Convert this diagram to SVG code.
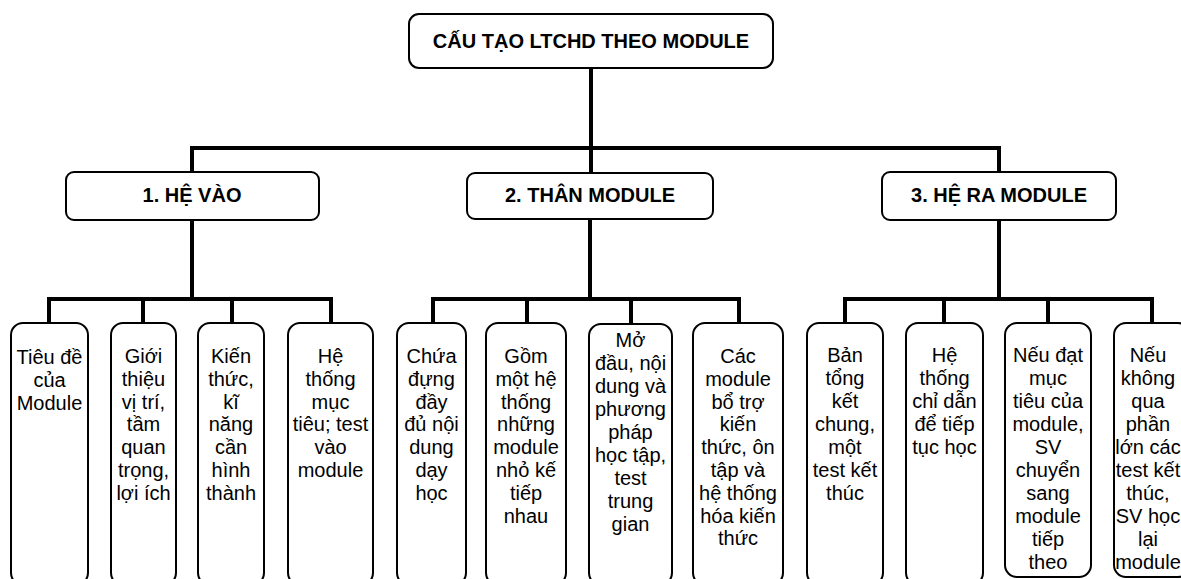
<svg xmlns="http://www.w3.org/2000/svg" width="1181" height="579" viewBox="0 0 1181 579">
<style>
.box{fill:#fff;stroke:#000;stroke-width:2}
.conn{fill:none;stroke:#000;stroke-width:4;stroke-linecap:square}
.h{font-family:"Liberation Sans",Arial,sans-serif;font-weight:bold;font-size:20px;text-anchor:middle;fill:#000}
.t{font-family:"Liberation Sans",Arial,sans-serif;font-size:20px;text-anchor:middle;fill:#000}
</style>
<rect width="1181" height="579" fill="#fff"/>
<g id="connectors" class="conn">
<path d="M591 68V148M192 148H999M192 148V172M591 148V173M999 148V172"/>
<path d="M192 220V299M49 299H331M49 299V323M143 299V323M232 299V323M331 299V323"/>
<path d="M590 219V299M433 299H739M433 299V323M527 299V323M631 299V323M739 299V323"/>
<path d="M999 220V299M845 299H1152M845 299V323M944 299V323M1048 299V323M1152 299V323"/>
</g>
<g id="root"><rect class="box" x="409" y="14" width="364" height="54" rx="10"/><text class="h" x="591" y="48">CẤU TẠO LTCHD THEO MODULE</text></g>
<g id="n1"><rect class="box" x="66" y="172" width="253" height="48" rx="8"/><text class="h" x="192" y="202">1. HỆ VÀO</text></g>
<g id="n2"><rect class="box" x="467" y="173" width="246" height="46" rx="8"/><text class="h" x="590" y="202">2. THÂN MODULE</text></g>
<g id="n3"><rect class="box" x="882" y="172" width="234" height="48" rx="8"/><text class="h" x="999" y="202">3. HỆ RA MODULE</text></g>

<g id="c1"><rect class="box" x="11" y="323" width="77" height="262" rx="12"/><text class="t" x="49.5" y="364"><tspan x="49.5">Tiêu đề</tspan><tspan x="49.5" dy="23">của</tspan><tspan x="49.5" dy="23">Module</tspan></text></g>
<g id="c2"><rect class="box" x="111" y="323" width="65" height="262" rx="12"/><text class="t" x="143.5" y="363"><tspan x="143.5">Giới</tspan><tspan x="143.5" dy="22.8">thiệu</tspan><tspan x="143.5" dy="22.8">vị trí,</tspan><tspan x="143.5" dy="22.8">tầm</tspan><tspan x="143.5" dy="22.8">quan</tspan><tspan x="143.5" dy="22.8">trọng,</tspan><tspan x="143.5" dy="22.8">lợi ích</tspan></text></g>
<g id="c3"><rect class="box" x="198" y="323" width="66" height="262" rx="12"/><text class="t" x="231" y="363"><tspan x="231">Kiến</tspan><tspan x="231" dy="22.8">thức,</tspan><tspan x="231" dy="22.8">kĩ</tspan><tspan x="231" dy="22.8">năng</tspan><tspan x="231" dy="22.8">cần</tspan><tspan x="231" dy="22.8">hình</tspan><tspan x="231" dy="22.8">thành</tspan></text></g>
<g id="c4"><rect class="box" x="288" y="323" width="85" height="262" rx="12"/><text class="t" x="330.5" y="363"><tspan x="330.5">Hệ</tspan><tspan x="330.5" dy="22.8">thống</tspan><tspan x="330.5" dy="22.8">mục</tspan><tspan x="330.5" dy="22.8">tiêu; test</tspan><tspan x="330.5" dy="22.8">vào</tspan><tspan x="330.5" dy="22.8">module</tspan></text></g>

<g id="c5"><rect class="box" x="397" y="323" width="69" height="262" rx="12"/><text class="t" x="431.5" y="363"><tspan x="431.5">Chứa</tspan><tspan x="431.5" dy="22.8">đựng</tspan><tspan x="431.5" dy="22.8">đầy</tspan><tspan x="431.5" dy="22.8">đủ nội</tspan><tspan x="431.5" dy="22.8">dung</tspan><tspan x="431.5" dy="22.8">dạy</tspan><tspan x="431.5" dy="22.8">học</tspan></text></g>
<g id="c6"><rect class="box" x="486" y="323" width="80" height="262" rx="12"/><text class="t" x="526" y="363"><tspan x="526">Gồm</tspan><tspan x="526" dy="22.8">một hệ</tspan><tspan x="526" dy="22.8">thống</tspan><tspan x="526" dy="22.8">những</tspan><tspan x="526" dy="22.8">module</tspan><tspan x="526" dy="22.8">nhỏ kế</tspan><tspan x="526" dy="22.8">tiếp</tspan><tspan x="526" dy="22.8">nhau</tspan></text></g>
<g id="c7"><rect class="box" x="589" y="324" width="83" height="261" rx="12"/><text class="t" x="630.5" y="347"><tspan x="630.5">Mở</tspan><tspan x="630.5" dy="23">đầu, nội</tspan><tspan x="630.5" dy="23">dung và</tspan><tspan x="630.5" dy="23">phương</tspan><tspan x="630.5" dy="23">pháp</tspan><tspan x="630.5" dy="23">học tập,</tspan><tspan x="630.5" dy="23">test</tspan><tspan x="630.5" dy="23">trung</tspan><tspan x="630.5" dy="23">gian</tspan></text></g>
<g id="c8"><rect class="box" x="693" y="323" width="90" height="262" rx="12"/><text class="t" x="738" y="363"><tspan x="738">Các</tspan><tspan x="738" dy="22.8">module</tspan><tspan x="738" dy="22.8">bổ trợ</tspan><tspan x="738" dy="22.8">kiến</tspan><tspan x="738" dy="22.8">thức, ôn</tspan><tspan x="738" dy="22.8">tập và</tspan><tspan x="738" dy="22.8">hệ thống</tspan><tspan x="738" dy="22.8">hóa kiến</tspan><tspan x="738" dy="22.8">thức</tspan></text></g>

<g id="c9"><rect class="box" x="807" y="323" width="76" height="262" rx="12"/><text class="t" x="845" y="362"><tspan x="845">Bản</tspan><tspan x="845" dy="23">tổng</tspan><tspan x="845" dy="23">kết</tspan><tspan x="845" dy="23">chung,</tspan><tspan x="845" dy="23">một</tspan><tspan x="845" dy="23">test kết</tspan><tspan x="845" dy="23">thúc</tspan></text></g>
<g id="c10"><rect class="box" x="906" y="323" width="77" height="262" rx="12"/><text class="t" x="944.5" y="362"><tspan x="944.5">Hệ</tspan><tspan x="944.5" dy="23">thống</tspan><tspan x="944.5" dy="23">chỉ dẫn</tspan><tspan x="944.5" dy="23">để tiếp</tspan><tspan x="944.5" dy="23">tục học</tspan></text></g>
<g id="c11"><rect class="box" x="1005" y="323" width="86" height="254" rx="12"/><text class="t" x="1048" y="362"><tspan x="1048">Nếu đạt</tspan><tspan x="1048" dy="23">mục</tspan><tspan x="1048" dy="23">tiêu của</tspan><tspan x="1048" dy="23">module,</tspan><tspan x="1048" dy="23">SV</tspan><tspan x="1048" dy="23">chuyển</tspan><tspan x="1048" dy="23">sang</tspan><tspan x="1048" dy="23">module</tspan><tspan x="1048" dy="23">tiếp</tspan><tspan x="1048" dy="23">theo</tspan></text></g>
<g id="c12"><rect class="box" x="1114" y="323" width="76" height="254" rx="12"/><text class="t" x="1148" y="362"><tspan x="1148">Nếu</tspan><tspan x="1148" dy="23">không</tspan><tspan x="1148" dy="23">qua</tspan><tspan x="1148" dy="23">phần</tspan><tspan x="1148" dy="23">lớn các</tspan><tspan x="1148" dy="23">test kết</tspan><tspan x="1148" dy="23">thúc,</tspan><tspan x="1148" dy="23">SV học</tspan><tspan x="1148" dy="23">lại</tspan><tspan x="1148" dy="23">module</tspan></text></g>
</svg>
